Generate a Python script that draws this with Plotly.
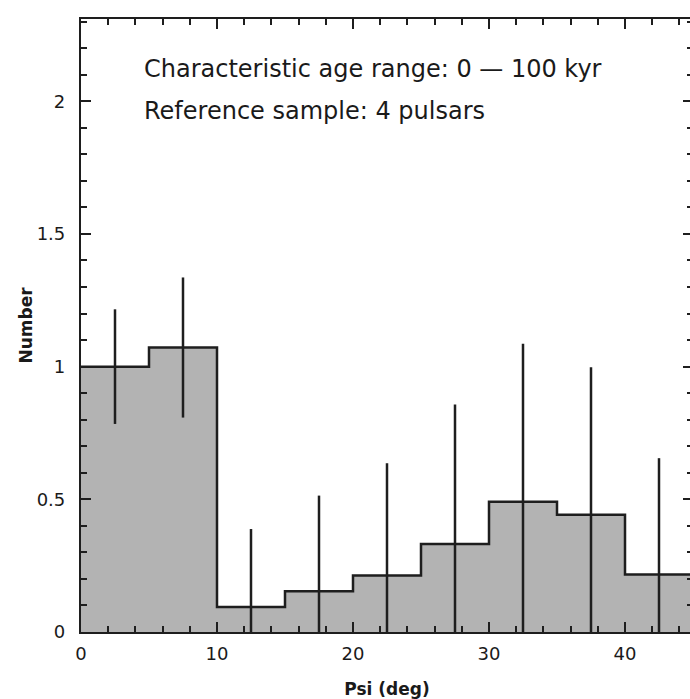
import plotly.graph_objects as go

# Data
bin_edges = [0, 5, 10, 15, 20, 25, 30, 35, 40, 45]
bin_values = [1.0, 1.072, 0.094, 0.154, 0.213, 0.332, 0.491, 0.442, 0.217]
bin_errors = [0.216, 0.264, 0.294, 0.36, 0.423, 0.525, 0.595, 0.556, 0.438]
text_lines = ["Characteristic age range: 0 \u2014 100 kyr", "Reference sample: 4 pulsars"]

centers = [(a + b) / 2 for a, b in zip(bin_edges[:-1], bin_edges[1:])]
widths = [b - a for a, b in zip(bin_edges[:-1], bin_edges[1:])]

fig = go.Figure()

# filled histogram
fig.add_trace(go.Bar(x=centers, y=bin_values, width=widths,
                     marker=dict(color="#b3b3b3", line=dict(width=0)),
                     showlegend=False, hoverinfo="skip"))

# step outline
fig.add_trace(go.Scatter(x=bin_edges, y=bin_values + [bin_values[-1]],
                         mode="lines", line=dict(shape="hv", color="#1e1e1e", width=2.5),
                         showlegend=False, hoverinfo="skip"))

# error bars (vertical segments)
ex, ey = [], []
for c, v, e in zip(centers, bin_values, bin_errors):
    ex += [c, c, None]
    ey += [v - e, v + e, None]
fig.add_trace(go.Scatter(x=ex, y=ey, mode="lines",
                         line=dict(color="#1e1e1e", width=2.5),
                         showlegend=False, hoverinfo="skip"))

for i, t in enumerate(text_lines):
    fig.add_annotation(text=t, xref="x", yref="y", x=4.5, y=2.122 - i * 0.158,
                       xanchor="left", yanchor="middle", showarrow=False,
                       font=dict(family="DejaVu Sans", size=24, color="#1a1a1a"))

axis_common = dict(showline=True, linecolor="#1e1e1e", linewidth=2.2,
                   mirror="allticks", ticks="inside", tickcolor="#1e1e1e",
                   tickwidth=2, ticklen=10, showgrid=False, zeroline=False,
                   tickfont=dict(family="DejaVu Sans", size=18, color="#1a1a1a"))

fig.update_xaxes(range=[0, 45], dtick=10, tick0=0,
                 minor=dict(dtick=2, ticklen=6, tickwidth=1.5, tickcolor="#1e1e1e", ticks="inside"),
                 title=dict(text="<b>Psi (deg)</b>", standoff=22,
                            font=dict(family="DejaVu Sans", size=17, color="#1a1a1a")),
                 ticklabelstandoff=4,
                 **axis_common)
fig.update_yaxes(range=[0, 2.31], dtick=0.5, tick0=0,
                 minor=dict(dtick=0.1, ticklen=6, tickwidth=1.5, tickcolor="#1e1e1e", ticks="inside"),
                 title=dict(text="<b>Number</b>", standoff=0,
                            font=dict(family="DejaVu Sans", size=17, color="#1a1a1a")),
                 ticklabelstandoff=10,
                 **axis_common)

fig.update_layout(width=695, height=699, autosize=False,
                  margin=dict(l=81, r=0, t=19, b=67),
                  plot_bgcolor="white", paper_bgcolor="white",
                  bargap=0, showlegend=False)

fig.write_html("out.html",
               post_script="document.body.style.overflow='hidden';document.documentElement.style.overflow='hidden';")
